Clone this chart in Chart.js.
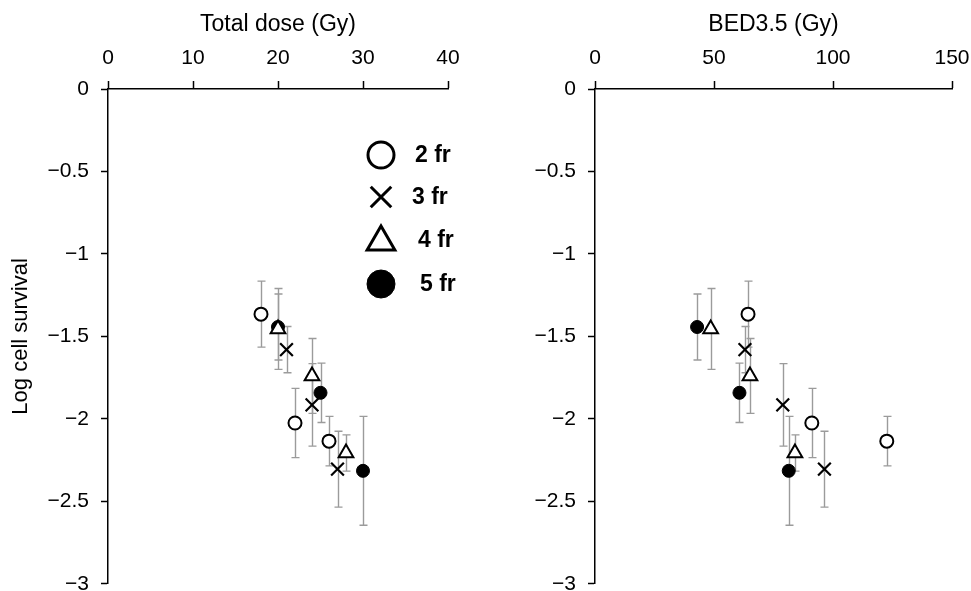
<!DOCTYPE html>
<html><head><meta charset="utf-8">
<script src="https://cdn.jsdelivr.net/npm/chart.js@4.4.0/dist/chart.umd.min.js"></script>
<style>
html,body{margin:0;padding:0;background:#fff;overflow:hidden;}
#wrap{position:relative;width:971px;height:591px;overflow:hidden;background:#fff;}
canvas{position:absolute;top:0;}
#c1{left:0;} #c2{left:485px;}
</style></head><body>
<div id="wrap"><canvas id="c1" width="485" height="595"></canvas><canvas id="c2" width="486" height="595"></canvas></div>
<script>
// ---- data ----
const fractionLabels = ['2 fr', '3 fr', '4 fr', '5 fr'];

const totalDose2fr = [18, 22, 26];
const totalDose3fr = [21, 24, 27];
const totalDose4fr = [20, 24, 28];
const totalDose5fr = [20, 25, 30];

const bed2fr = [64.3, 91.1, 122.6];
const bed3fr = [63.0, 78.9, 96.4];
const bed4fr = [48.6, 65.1, 84.0];
const bed5fr = [42.9, 60.7, 81.4];

const logSurvival2fr = [-1.365, -2.025, -2.135];
const logSurvival3fr = [-1.58, -1.915, -2.305];
const logSurvival4fr = [-1.455, -1.74, -2.207];
const logSurvival5fr = [-1.443, -1.842, -2.315];

const error2fr = [0.20, 0.21, 0.15];
const error3fr = [0.14, 0.25, 0.23];
const error4fr = [0.245, 0.227, 0.11];
const error5fr = [0.20, 0.18, 0.33];

const doseTicks = [0, 10, 20, 30, 40];
const bedTicks = [0, 50, 100, 150];
const survivalTicks = [0, -0.5, -1, -1.5, -2, -2.5, -3];

// ---- styles ----
const FONT = "'Liberation Sans', Arial, sans-serif";
const markerStyles = [
  {pointStyle: 'circle', radius: 6.5, fill: '#ffffff', lw: 2},
  {pointStyle: 'crossRot', radius: 9, fill: '#000000', lw: 2.2},
  {pointStyle: 'triangle', radius: 8.5, fill: '#ffffff', lw: 2},
  {pointStyle: 'circle', radius: 6.5, fill: '#000000', lw: 1}
];

function pts(xs, ys) { return xs.map((x, i) => ({x: x, y: ys[i]})); }

function makeDatasets(xArrays) {
  const ys = [logSurvival2fr, logSurvival3fr, logSurvival4fr, logSurvival5fr];
  const es = [error2fr, error3fr, error4fr, error5fr];
  return fractionLabels.map((lab, i) => ({
    label: lab,
    data: pts(xArrays[i], ys[i]),
    errors: es[i],
    showLine: false,
    pointStyle: markerStyles[i].pointStyle,
    pointRadius: markerStyles[i].radius,
    pointHoverRadius: markerStyles[i].radius,
    pointBackgroundColor: markerStyles[i].fill,
    pointBorderColor: '#000000',
    pointBorderWidth: markerStyles[i].lw
  }));
}

const errorBars = {
  id: 'errorBars',
  beforeDatasetsDraw(chart) {
    const ctx = chart.ctx, xs = chart.scales.x, ys = chart.scales.y;
    ctx.save();
    ctx.strokeStyle = '#9b9b9b';
    ctx.lineWidth = 1.4;
    chart.data.datasets.forEach(ds => {
      ds.data.forEach((p, j) => {
        const e = ds.errors[j];
        const x = Math.round(xs.getPixelForValue(p.x)) + 0.5;
        const y1 = ys.getPixelForValue(p.y + e), y2 = ys.getPixelForValue(p.y - e);
        ctx.beginPath();
        ctx.moveTo(x, y1); ctx.lineTo(x, y2);
        ctx.moveTo(x - 4, y1); ctx.lineTo(x + 4, y1);
        ctx.moveTo(x - 4, y2); ctx.lineTo(x + 4, y2);
        ctx.stroke();
      });
    });
    ctx.restore();
  }
};

const customLegend = {
  id: 'customLegend',
  afterDraw(chart) {
    const ctx = chart.ctx, a = chart.chartArea;
    const mx = a.left + 273;
    const rowsY = [a.top + 66, a.top + 108, a.top + 151, a.top + 195];
    const textX = [mx + 34, mx + 31, mx + 37, mx + 39];
    const legendMarkers = [
      {style: 'circle', radius: 13, fill: '#ffffff', lw: 3},
      {style: 'crossRot', radius: 14.5, fill: '#000000', lw: 3},
      {style: 'triangle', radius: 16, fill: '#ffffff', lw: 3},
      {style: 'circle', radius: 14, fill: '#000000', lw: 1}
    ];
    ctx.save();
    fractionLabels.forEach((lab, i) => {
      const m = legendMarkers[i];
      ctx.fillStyle = m.fill;
      ctx.strokeStyle = '#000000';
      ctx.lineWidth = m.lw;
      Chart.helpers.drawPoint(ctx, {pointStyle: m.style, radius: m.radius, rotation: 0, borderWidth: m.lw},
        mx, rowsY[i] + (m.style === 'triangle' ? 2 : 0));
      ctx.fillStyle = '#000000';
      ctx.font = 'bold 23px ' + FONT;
      ctx.textBaseline = 'middle';
      ctx.textAlign = 'left';
      ctx.fillText(lab, textX[i], rowsY[i] + 1);
    });
    ctx.restore();
  }
};

function tickMinus(v) {
  if (v === 0) return '0';
  return (v < 0 ? '\u2212' : '') + Math.abs(v);
}

function makeChart(id, datasets, xMin, xMax, xTicks, xTitle, yTitle, yWidth, rightPad, extraPlugins) {
  return new Chart(document.getElementById(id), {
    type: 'scatter',
    data: {datasets: datasets},
    plugins: [errorBars].concat(extraPlugins),
    options: {
      responsive: false,
      animation: false,
      devicePixelRatio: 1,
      layout: {padding: {left: 0, right: rightPad, top: 0, bottom: 5}},
      plugins: {legend: {display: false}, tooltip: {enabled: false}},
      scales: {
        x: {
          type: 'linear',
          position: 'top',
          min: xMin, max: xMax,
          afterBuildTicks: s => { s.ticks = xTicks.map(v => ({value: v})); },
          afterFit: s => { s.height = 89; s.paddingLeft = 0; s.paddingRight = 0; },
          grid: {drawOnChartArea: false, drawTicks: true, tickLength: 8, tickColor: '#000', tickWidth: 1.5},
          border: {display: true, color: '#000', width: 1.5},
          ticks: {color: '#000', font: {family: FONT, size: 21}, padding: 10, maxRotation: 0},
          title: {display: true, text: xTitle, color: '#000', font: {family: FONT, size: 23}, padding: {top: 11, bottom: 0}}
        },
        y: {
          type: 'linear',
          position: 'left',
          min: -3, max: 0,
          afterBuildTicks: s => { s.ticks = survivalTicks.map(v => ({value: v})); },
          afterFit: s => { s.width = yWidth; s.paddingTop = 0; s.paddingBottom = 0; },
          grid: {drawOnChartArea: false, drawTicks: true, tickLength: 7, tickColor: '#000', tickWidth: 1.5},
          border: {display: true, color: '#000', width: 1.5},
          ticks: {color: '#000', font: {family: FONT, size: 21}, padding: 12, callback: v => tickMinus(v)},
          title: {display: !!yTitle, text: yTitle || '', color: '#000', font: {family: FONT, size: 22}, padding: {top: 8, bottom: 0}}
        }
      }
    }
  });
}

makeChart('c1', makeDatasets([totalDose2fr, totalDose3fr, totalDose4fr, totalDose5fr]),
  0, 40, doseTicks, 'Total dose (Gy)', 'Log cell survival', 108, 37, [customLegend]);
makeChart('c2', makeDatasets([bed2fr, bed3fr, bed4fr, bed5fr]),
  0, 150, bedTicks, 'BED3.5 (Gy)', null, 110, 19, []);
</script>
</body></html>
